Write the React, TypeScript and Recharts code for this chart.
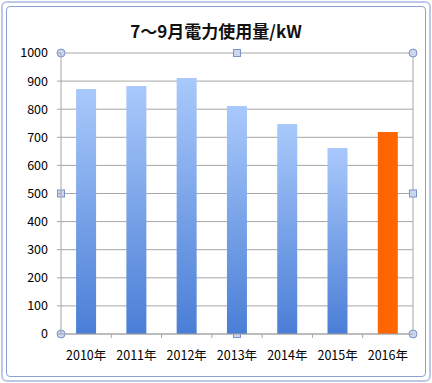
import React from 'react';
import { BarChart, Bar, XAxis, YAxis, CartesianGrid, Cell, usePlotArea } from 'recharts';

const years = ['2010年', '2011年', '2012年', '2013年', '2014年', '2015年', '2016年'];
const usage = [872, 883, 911, 811, 747, 662, 719];
const yTicks = [0, 100, 200, 300, 400, 500, 600, 700, 800, 900, 1000];

const data = years.map((year, i) => ({ year, usage: usage[i] }));

const FONT = '"Noto Sans CJK JP", "Noto Sans", sans-serif';

// Excel-style selection handles + tick marks between categories
const PlotDecor: React.FC = () => {
  const area = usePlotArea();
  if (!area) return null;
  const { x, y, width, height } = area;
  const r = x + width;
  const b = y + height;
  const step = width / years.length;
  const circle = (cx: number, cy: number, k: string) => (
    <circle key={k} cx={cx} cy={cy} r={4} fill="#c9d6f0" stroke="#7d93c7" strokeWidth={1} />
  );
  const square = (cx: number, cy: number, k: string) => (
    <rect key={k} x={cx - 3.5} y={cy - 3.5} width={7} height={7} fill="#c9d6f0" stroke="#7d93c7" strokeWidth={1} />
  );
  return (
    <g>
      <line x1={r} y1={y} x2={r} y2={b} stroke="#a6a6a6" />
      {years.map((_, i) => (
        <line key={'t' + i} x1={x + step * (i + 1)} y1={b} x2={x + step * (i + 1)} y2={b + 4} stroke="#a6a6a6" />
      ))}
      {circle(x, y, 'c1')}
      {circle(r, y, 'c2')}
      {circle(x, b, 'c3')}
      {circle(r, b, 'c4')}
      {square(x + width / 2, y, 's1')}
      {square(x, y + height / 2, 's2')}
      {square(r, y + height / 2, 's3')}
      {square(x + width / 2, b, 's4')}
    </g>
  );
};

export default function App() {
  return (
    <div style={{ position: 'absolute', left: 0, top: 0, width: 432, height: 383, background: '#fff', fontFamily: FONT }}>
      <div style={{ position: 'absolute', left: 1, top: 1, right: 1, bottom: 1, border: '2px solid #bcc8e6', borderRadius: 6 }} />
      <div style={{ position: 'absolute', left: 6, top: 6, right: 6, bottom: 6, border: '1px solid #8aa0d4', borderRadius: 4 }} />
      <div style={{ position: 'absolute', left: 0, top: 18, width: 432, textAlign: 'center', fontSize: 17, fontWeight: 'bold', color: '#111' }}>
        7〜9月電力使用量/kW
      </div>
      <BarChart
        width={432}
        height={383}
        data={data}
        margin={{ top: 53, right: 19, bottom: 0, left: 0 }}
        barCategoryGap="30%"
        style={{ position: 'absolute', left: 0, top: 0 }}
      >
        <defs>
          <linearGradient id="blueBar" x1="0" y1="0" x2="0" y2="1">
            <stop offset="0%" stopColor="#a9c9fb" />
            <stop offset="100%" stopColor="#4a7ed6" />
          </linearGradient>
        </defs>
        <CartesianGrid vertical={false} stroke="#a6a6a6" />
        <XAxis
          dataKey="year"
          height={49}
          tickLine={false}
          tickSize={0}
          tickMargin={17}
          axisLine={{ stroke: '#a6a6a6' }}
          tick={{ fill: '#000', fontSize: 12.5, fontFamily: FONT }}
          interval={0}
        />
        <YAxis
          width={61}
          domain={[0, 1000]}
          ticks={yTicks}
          tickSize={4}
          tickMargin={9}
          tickLine={{ stroke: '#a6a6a6' }}
          axisLine={{ stroke: '#a6a6a6' }}
          tick={{ fill: '#000', fontSize: 12.5, fontFamily: FONT }}
          interval={0}
        />
        <Bar dataKey="usage" isAnimationActive={false}>
          {data.map((d, i) => (
            <Cell key={d.year} fill={i === data.length - 1 ? '#ff6600' : 'url(#blueBar)'} />
          ))}
        </Bar>
        <PlotDecor />
      </BarChart>
    </div>
  );
}
